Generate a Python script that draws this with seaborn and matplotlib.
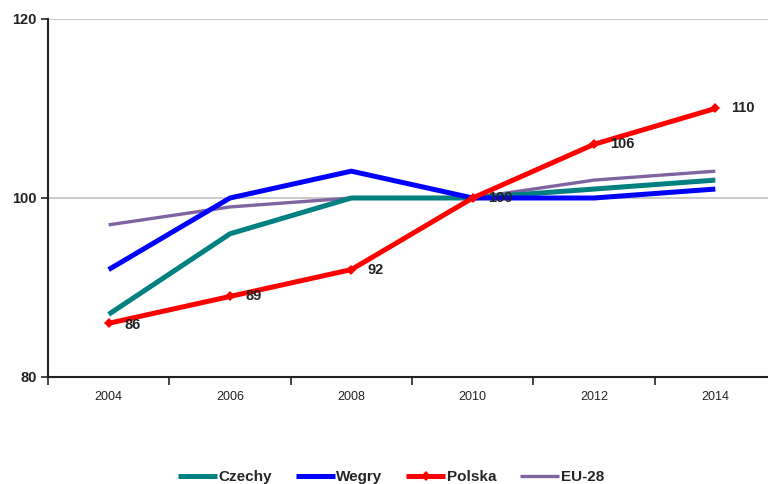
import matplotlib
matplotlib.use("Agg")
import matplotlib.pyplot as plt
import seaborn as sns
import pandas as pd

years = ["2004", "2006", "2008", "2010", "2012", "2014"]
czechy = [87, 96, 100, 100, 101, 102]
wegry = [92, 100, 103, 100, 100, 101]
polska = [86, 89, 92, 100, 106, 110]
eu28 = [97, 99, 100, 100, 102, 103]

sns.set_theme(style="white")
plt.rcParams["font.family"] = ["Liberation Sans", "DejaVu Sans"]

fig = plt.figure(figsize=(7.68, 4.84), dpi=100)
ax = fig.add_axes([48 / 768, 1 - 377 / 484, 728 / 768, 358 / 484])

pos = list(range(len(years)))
series = [
    ("Czechy", czechy, "#008080", 3.6, None),
    ("Wegry", wegry, "#0000FF", 3.6, None),
    ("Polska", polska, "#FF0000", 3.6, "D"),
    ("EU-28", eu28, "#8064A2", 2.4, None),
]
df = pd.DataFrame({"pos": pos})
for name, vals, color, lw, marker in series:
    df[name] = vals
    kw = dict(marker=marker, markersize=5.5, markeredgewidth=0) if marker else {}
    sns.lineplot(data=df, x="pos", y=name, ax=ax, color=color, linewidth=lw,
                 label=name, zorder=3 if name != "EU-28" else 2,
                 solid_capstyle="butt", **kw)

# value labels for Polska
for x, v in zip(pos, polska):
    dy = -0.2 if x == 0 else 0
    ax.text(x + 0.13, v + dy, f"{v}", fontsize=10.5, fontweight="bold",
            ha="left", va="center", color="#222222", zorder=5)

ax.set_xlim(-0.5, len(years) - 0.5)
ax.set_ylim(80, 120)
ax.set_yticks([80, 100, 120])
ax.set_yticklabels(["80", "100", "120"], fontsize=10.5, fontweight="bold",
                   color="#222222")
ax.yaxis.grid(True, color="#c0c0c0", linewidth=1.2)
ax.set_axisbelow(True)

# tick marks at category boundaries, labels at category centers
ax.set_xticks([p - 0.5 for p in pos] + [len(years) - 0.5])
ax.set_xticklabels([])
ax.set_xticks(pos, minor=True)
ax.set_xticklabels(years, minor=True, fontsize=9, color="#222222")
ax.tick_params(axis="x", which="major", direction="out", length=6, width=1.2,
               color="#222222", bottom=True)
ax.tick_params(axis="x", which="minor", length=0, pad=10)
ax.tick_params(axis="y", direction="out", length=5, width=1.2, color="#222222",
               left=True, pad=3)

for s in ["top", "right"]:
    ax.spines[s].set_visible(False)
for s in ["left", "bottom"]:
    ax.spines[s].set_color("#222222")
    ax.spines[s].set_linewidth(1.5)

ax.set_xlabel("")
ax.set_ylabel("")
ax.legend_.remove()
h, l = ax.get_legend_handles_labels()
fig.legend(h, l, loc="center", bbox_to_anchor=(391 / 768, 1 - 477 / 484),
           ncol=4, frameon=False, handlelength=2.55,
           handletextpad=0.12, columnspacing=1.55,
           prop={"weight": "bold", "size": 11})

fig.savefig("out.png", dpi=100)
